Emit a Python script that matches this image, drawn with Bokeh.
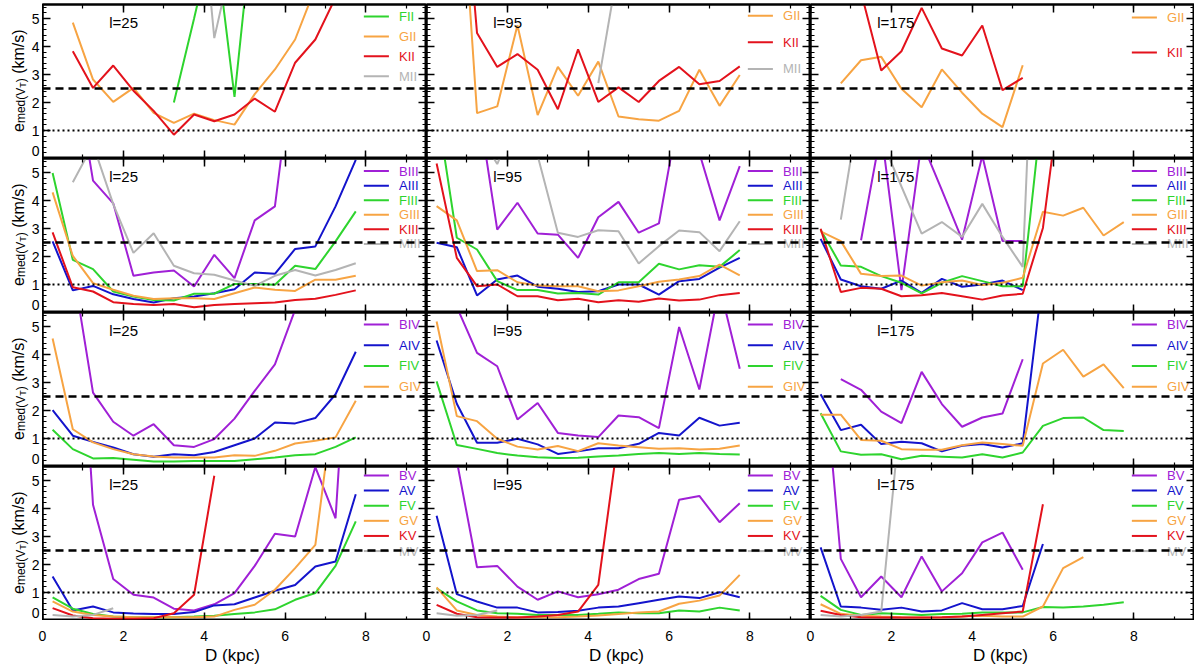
import numpy as np
from bokeh.core.properties import value
from bokeh.embed import file_html
from bokeh.layouts import column, gridplot, row
from bokeh.models import ColumnDataSource, LinearAxis, Range1d, SingleIntervalTicker, Span
from bokeh.plotting import figure
from bokeh.resources import INLINE

# distance bins (kpc)
D = [0.25, 0.75, 1.25, 1.75, 2.25, 2.75, 3.25, 3.75,
     4.25, 4.75, 5.25, 5.75, 6.25, 6.75, 7.25, 7.75]

N = None

# luminosity class II
FII_25 = [N, N, N, N, N, N, 2.0, 5.0, 8.1, 2.2, 9.1, N, N, N, N, N]
GII_25 = [N, 4.85, 2.82, 2.02, 2.52, 1.63, 1.27, 1.6, 1.37, 1.21, 2.3, 3.18, 4.25, 6.1, N, N]
KII_25 = [N, 3.83, 2.52, 3.32, 2.42, 1.7, 0.85, 1.57, 1.33, 1.57, 2.14, 1.67, 3.42, 4.25, 5.75, N]
MII_25 = [N, N, N, N, N, N, N, 12.0, 4.3, 7.5, N, N, N, N, N, N]

GII_95 = [N, 12.4, 1.62, 1.86, 4.76, 1.55, 3.27, 2.24, 3.46, 1.5, 1.4, 1.35, 1.7, 3.17, 1.88, 2.98]
KII_95 = [N, 13.0, 4.48, 3.27, 3.73, 3.17, 1.76, 3.9, 2.02, 2.54, 2.02, 2.77, 3.27, 2.65, 2.77, 3.29]
MII_95 = [N, N, N, N, N, N, N, N, 2.69, 6.9, N, N, N, N, N, N]

GII_175 = [N, 2.68, 3.51, 3.63, 2.49, 1.83, 3.18, 2.35, 1.6, 1.12, 3.33, N, N, N, N, N]
KII_175 = [N, N, 5.94, 3.14, 3.83, 5.38, 3.93, 3.68, 4.75, 2.44, 2.88, N, N, N, N, N]

# luminosity class III
BIII_25 = [N, 9.1, 4.71, 3.9, 1.31, 1.43, 1.5, 0.93, 2.06, 1.23, 3.29, 3.79, 9.5, N, N, N]
AIII_25 = [2.54, 0.79, 0.95, 0.65, 0.48, 0.36, 0.51, 0.57, 0.69, 0.83, 1.43, 1.38, 2.27, 2.36, 3.79, 5.45]
FIII_25 = [4.98, 1.88, 1.55, 0.75, 0.57, 0.45, 0.43, 0.67, 0.67, 1.02, 1.02, 0.99, 1.67, 1.55, 2.54, 3.61]
GIII_25 = [4.29, 2.02, 1.05, 0.81, 0.6, 0.48, 0.51, 0.51, 0.48, 0.69, 0.89, 0.81, 0.77, 1.17, 1.17, 1.31]
KIII_25 = [2.86, 0.9, 0.75, 0.37, 0.3, 0.27, 0.3, 0.19, 0.27, 0.3, 0.33, 0.36, 0.45, 0.49, 0.63, 0.79]
MIII_25 = [N, 4.65, 6.0, 3.87, 2.13, 2.83, 1.67, 1.4, 1.35, 1.14, 0.95, 1.31, 1.52, 1.32, 1.52, 1.76]

BIII_95 = [N, N, 7.7, 2.96, 3.92, 2.82, 2.78, 1.95, 3.4, 3.95, 2.85, 3.18, 7.2, 5.7, 3.29, 5.23]
AIII_95 = [2.49, 2.33, 0.61, 1.18, 1.32, 0.92, 0.85, 0.73, 0.76, 1.0, 1.0, 0.64, 1.12, 1.2, 1.6, 1.95]
FIII_95 = [7.4, 2.67, 2.25, 1.12, 0.8, 0.8, 0.68, 0.7, 0.64, 1.08, 1.08, 1.74, 1.54, 1.69, 1.63, 2.23]
GIII_95 = [3.8, 3.29, 1.48, 1.51, 1.08, 0.96, 0.94, 0.94, 0.76, 0.79, 0.94, 1.1, 1.18, 1.3, 1.71, 1.33]
KIII_95 = [5.32, 1.95, 0.94, 1.0, 0.58, 0.58, 0.44, 0.49, 0.37, 0.44, 0.38, 0.5, 0.43, 0.46, 0.62, 0.7]
MIII_95 = [N, N, 6.5, 5.3, 7.0, 5.6, 2.85, 2.7, 2.94, 2.9, 1.75, 2.37, 2.93, 2.87, 2.19, 3.26]

BIII_175 = [N, N, 2.58, 6.5, 0.8, 6.1, 4.37, 2.6, 5.6, 2.55, 2.55, N, N, N, N, N]
AIII_175 = [2.63, 1.18, 0.94, 0.85, 1.14, 0.7, 1.2, 0.92, 1.0, 1.14, 0.8, N, N, N, N, N]
FIII_175 = [2.96, 1.68, 1.63, 1.3, 1.06, 0.68, 1.06, 1.3, 1.12, 0.94, 0.94, 7.6, N, N, N, N]
GIII_175 = [2.9, 2.55, 1.38, 1.3, 1.32, 0.96, 1.08, 1.14, 0.98, 1.06, 1.24, 3.6, 3.46, 3.74, 2.75, 3.23]
KIII_175 = [2.99, 0.73, 0.88, 0.85, 0.58, 0.62, 0.7, 0.58, 0.46, 0.61, 0.67, 3.02, 8.6, N, N, N]
MIII_175 = [N, 3.32, 7.7, 6.2, 4.5, 2.82, 3.23, 2.7, 3.88, 2.7, 1.63, 19.0, N, N, N, N]

# luminosity class IV
BIV_25 = [N, 7.1, 2.64, 1.6, 1.1, 1.51, 0.76, 0.7, 0.98, 1.71, 2.7, 3.65, 5.6, 7.5, N, N]
AIV_25 = [2.01, 1.1, 0.88, 0.68, 0.44, 0.35, 0.44, 0.4, 0.52, 0.76, 1.0, 1.57, 1.54, 1.73, 2.58, 4.1]
FIV_25 = [1.31, 0.62, 0.29, 0.3, 0.24, 0.18, 0.18, 0.2, 0.2, 0.2, 0.26, 0.32, 0.4, 0.44, 0.7, 1.04]
GIV_25 = [4.57, 1.33, 0.86, 0.62, 0.44, 0.36, 0.32, 0.32, 0.32, 0.4, 0.38, 0.56, 0.82, 0.92, 1.04, 2.35]

BIV_95 = [N, 5.7, 4.06, 3.58, 1.68, 2.27, 1.2, 1.11, 1.05, 1.82, 1.76, 1.37, 4.98, 2.75, 6.45, 3.49]
AIV_95 = [4.5, 2.24, 0.85, 0.85, 0.99, 0.79, 0.45, 0.54, 0.65, 0.65, 0.81, 1.2, 1.11, 1.74, 1.46, 1.56]
FIV_95 = [3.04, 0.77, 0.63, 0.48, 0.39, 0.33, 0.3, 0.31, 0.36, 0.39, 0.45, 0.48, 0.45, 0.48, 0.45, 0.43]
GIV_95 = [5.18, 1.8, 1.62, 0.99, 0.71, 0.61, 0.73, 0.55, 0.83, 0.75, 0.69, 0.63, 0.65, 0.61, 0.63, 0.75]

BIV_175 = [N, 3.12, 2.74, 1.96, 1.55, 3.38, 2.23, 1.42, 1.75, 1.89, 3.83, N, N, N, N, N]
AIV_175 = [2.58, 1.3, 1.49, 0.8, 0.88, 0.83, 0.54, 0.74, 0.8, 0.68, 0.83, 6.8, N, N, N, N]
FIV_175 = [1.9, 0.54, 0.42, 0.44, 0.26, 0.38, 0.35, 0.32, 0.44, 0.32, 0.5, 1.45, 1.73, 1.75, 1.3, 1.27]
GIV_175 = [1.85, 1.85, 0.95, 0.92, 0.62, 0.6, 0.6, 0.76, 0.86, 0.8, 0.74, 3.68, 4.17, 3.21, 3.65, 2.8]

# luminosity class V
BV_25 = [N, 15.5, 4.13, 1.48, 0.92, 0.82, 0.42, 0.36, 0.58, 0.98, 1.95, 3.1, 3.0, 5.48, 3.65, 15.0]
AV_25 = [1.57, 0.36, 0.5, 0.29, 0.25, 0.23, 0.23, 0.3, 0.54, 0.58, 0.82, 1.06, 1.27, 1.93, 2.11, 4.51]
FV_25 = [0.83, 0.42, 0.23, 0.14, 0.12, 0.12, 0.12, 0.14, 0.17, 0.23, 0.29, 0.4, 0.74, 0.98, 1.95, 3.54]
GV_25 = [0.68, 0.32, 0.2, 0.14, 0.12, 0.12, 0.12, 0.12, 0.14, 0.38, 0.56, 1.1, 1.87, 2.7, 8.3, N]
KV_25 = [0.44, 0.18, 0.08, 0.06, 0.06, 0.08, 0.26, 0.92, 5.17, N, N, N, N, N, N, N]
MV_25 = [0.2, 0.14, 0.2, 0.44, N, N, N, N, N, N, N, N, N, N, N, N]

BV_95 = [N, 5.7, 1.9, 1.95, 1.21, 0.74, 1.04, 0.83, 0.94, 1.1, 1.48, 1.67, 4.31, 4.45, 3.51, 4.19]
AV_95 = [3.74, 0.94, 0.68, 0.46, 0.46, 0.29, 0.3, 0.35, 0.46, 0.5, 0.62, 0.74, 0.86, 0.8, 1.01, 0.83]
FV_95 = [1.15, 0.68, 0.36, 0.26, 0.24, 0.2, 0.2, 0.2, 0.24, 0.29, 0.26, 0.26, 0.36, 0.32, 0.46, 0.36]
GV_95 = [1.18, 0.36, 0.2, 0.14, 0.12, 0.12, 0.12, 0.14, 0.18, 0.23, 0.29, 0.32, 0.6, 0.71, 0.89, 1.63]
KV_95 = [0.56, 0.24, 0.12, 0.11, 0.11, 0.14, 0.2, 0.32, 1.27, 6.6, N, N, N, N, N, N]
MV_95 = [0.26, 0.17, 0.2, 0.36, N, N, N, N, N, N, N, N, N, N, N, N]

BV_175 = [10.4, 2.2, 0.83, 1.57, 0.83, 2.29, 1.04, 1.69, 2.79, 3.14, 1.81, N, N, N, N, N]
AV_175 = [2.61, 0.5, 0.46, 0.38, 0.46, 0.32, 0.36, 0.62, 0.4, 0.4, 0.52, 2.73, N, N, N, N]
FV_175 = [0.88, 0.38, 0.2, 0.26, 0.23, 0.2, 0.23, 0.24, 0.29, 0.29, 0.29, 0.48, 0.46, 0.5, 0.56, 0.65]
GV_175 = [0.58, 0.24, 0.17, 0.14, 0.12, 0.11, 0.11, 0.14, 0.17, 0.14, 0.14, 0.5, 1.87, 2.26, N, N]
KV_175 = [0.35, 0.2, 0.12, 0.11, 0.11, 0.11, 0.12, 0.14, 0.2, 0.26, 0.32, 4.15, N, N, N, N]
MV_175 = [0.2, 0.14, 0.2, 0.32, 7.7, N, N, N, N, N, N, N, N, N, N, N]

LONGITUDES = [25, 95, 175]
X_TICKS = [0, 2, 4, 6, 8]
Y_TICKS = [0, 1, 2, 3, 4, 5]
DASHED_LEVEL = 2.5
DOTTED_LEVEL = 1.0

COLORS = {"B": "#a020d6", "A": "#1414cc", "F": "#2ed42e",
          "G": "#f7a443", "K": "#e3121c", "M": "#b4b4b4"}

PANELS = [
    [[("FII", FII_25), ("GII", GII_25), ("KII", KII_25), ("MII", MII_25)],
     [("GII", GII_95), ("KII", KII_95), ("MII", MII_95)],
     [("GII", GII_175), ("KII", KII_175)]],
    [[("BIII", BIII_25), ("AIII", AIII_25), ("FIII", FIII_25), ("GIII", GIII_25), ("KIII", KIII_25), ("MIII", MIII_25)],
     [("BIII", BIII_95), ("AIII", AIII_95), ("FIII", FIII_95), ("GIII", GIII_95), ("KIII", KIII_95), ("MIII", MIII_95)],
     [("BIII", BIII_175), ("AIII", AIII_175), ("FIII", FIII_175), ("GIII", GIII_175), ("KIII", KIII_175), ("MIII", MIII_175)]],
    [[("BIV", BIV_25), ("AIV", AIV_25), ("FIV", FIV_25), ("GIV", GIV_25)],
     [("BIV", BIV_95), ("AIV", AIV_95), ("FIV", FIV_95), ("GIV", GIV_95)],
     [("BIV", BIV_175), ("AIV", AIV_175), ("FIV", FIV_175), ("GIV", GIV_175)]],
    [[("BV", BV_25), ("AV", AV_25), ("FV", FV_25), ("GV", GV_25), ("KV", KV_25), ("MV", MV_25)],
     [("BV", BV_95), ("AV", AV_95), ("FV", FV_95), ("GV", GV_95), ("KV", KV_95), ("MV", MV_95)],
     [("BV", BV_175), ("AV", AV_175), ("FV", FV_175), ("GV", GV_175), ("KV", KV_175), ("MV", MV_175)]],
]

# legend placement: (first entry y, step) in data units
LEGEND_POS = [
    [(5.07, 0.71), (5.1, 0.95), (5.04, 1.25)],
    [(5.05, 0.52)] * 3,
    [(5.07, 0.74)] * 3,
    [(5.18, 0.54)] * 3,
]

FONT = "Liberation Sans"
FRAME_W, FRAME_H = 384, 154
LEFT_W, TOP_B, BOTTOM_H = 42, 4, 44
X_MAX, Y_MAX = 9.5, 5.5
PX_X = FRAME_W / X_MAX
PX_Y = FRAME_H / Y_MAX

# Arial/Liberation advance widths (per 1000 em) for the y label pieces
ADV = {"e": 556, "m": 833, "d": 556, "(": 333, ")": 333, "V": 667, "T": 611,
       " ": 278, "k": 500, "/": 278, "s": 500}


def add_axis(p, side):
    if side in ("below", "above"):
        ticker = SingleIntervalTicker(interval=2, num_minor_ticks=2)
    else:
        ticker = SingleIntervalTicker(interval=1, num_minor_ticks=5)
    ax = LinearAxis(ticker=ticker, axis_line_width=2, axis_line_color="black",
                    major_tick_in=8, major_tick_out=0, minor_tick_in=4, minor_tick_out=0,
                    major_tick_line_width=1.5, minor_tick_line_width=1.2,
                    major_label_text_color=None)
    p.add_layout(ax, side)


def make_panel(r, c):
    p = figure(frame_width=FRAME_W, frame_height=FRAME_H,
               x_range=Range1d(0, X_MAX), y_range=Range1d(0, Y_MAX),
               x_axis_location=None, y_axis_location=None,
               output_backend="svg", toolbar_location=None,
               min_border_left=0, min_border_right=0,
               min_border_top=TOP_B if r == 0 else 0, min_border_bottom=0)
    p.grid.visible = False
    p.outline_line_color = "black"
    p.outline_line_width = 2
    for side in ("below", "left", "above", "right"):
        add_axis(p, side)

    p.add_layout(Span(location=DASHED_LEVEL, dimension="width", line_color="black",
                      line_width=2.5, line_dash="8 5"))
    p.add_layout(Span(location=DOTTED_LEVEL, dimension="width", line_color="black",
                      line_width=2, line_dash="2 3"))

    series = PANELS[r][c]
    for name, vals in series:
        ys = [np.nan if v is None else v for v in vals]
        p.line(D, ys, line_color=COLORS[name[0]], line_width=2)

    y0, step = LEGEND_POS[r][c]
    leg = ColumnDataSource(dict(
        y=[y0 - i * step for i in range(len(series))],
        name=[s[0] for s in series],
        color=[COLORS[s[0][0]] for s in series],
    ))
    p.segment(x0=7.95, x1=8.57, y0="y", y1="y", line_color="color", line_width=2, source=leg)
    p.text(x=8.82, y="y", text="name", text_color="color", text_font=value(FONT),
           text_font_size="13px", text_baseline="middle", text_align="left", source=leg)

    p.text(x=[1.65], y=[4.85], text=[f"l={LONGITUDES[c]}"], text_color="black",
           text_font=value(FONT), text_font_size="15px", text_baseline="alphabetic")
    return p


def strip(w, h, xr, yr, top=0):
    s = figure(frame_width=w, frame_height=h, x_range=xr, y_range=yr,
               x_axis_location=None, y_axis_location=None,
               output_backend="svg", toolbar_location=None,
               min_border_left=0, min_border_right=0, min_border_top=top, min_border_bottom=0)
    s.grid.visible = False
    s.outline_line_color = None
    return s


# left strip: y tick labels and y titles for the four rows (y in panel units, stacked)
ylab = strip(LEFT_W, 4 * FRAME_H, Range1d(0, LEFT_W), Range1d(0, 4 * Y_MAX), top=TOP_B)
tick_src = ColumnDataSource(dict(
    y=[(3 - r) * Y_MAX + t for r in range(4) for t in Y_TICKS],
    text=[str(t) for r in range(4) for t in Y_TICKS],
    dy=[-8 if t == 0 else 0 for r in range(4) for t in Y_TICKS],
))
ylab.text(x=39, y="y", text="text", y_offset="dy", text_align="right", text_baseline="middle",
          text_font=value(FONT), text_font_size="14px", text_color="black", source=tick_src)

# (text, font size, baseline x, extra gap before the piece in em of the piece)
pieces = [("e", 16, 17.5, 0.0), ("med(V", 12, 20.5, 0.0), ("T", 9, 22.5, 0.0),
          (")", 12, 20.5, 0.0), ("(km/s)", 16, 17.5, 0.278)]
widths = [(sum(ADV[ch] for ch in t) / 1000.0 + gap) * size / PX_Y for t, size, _, gap in pieces]
for r in range(4):
    y = (3 - r) * Y_MAX + 2.78 - sum(widths) / 2
    for (t, size, bx, gap), w in zip(pieces, widths):
        ylab.text(x=[bx], y=[y + gap * size / PX_Y], text=[t], angle=np.pi / 2,
                  text_align="left", text_baseline="alphabetic", text_font=value(FONT),
                  text_font_size=f"{size}px", text_color="black")
        y += w

# bottom strip: x tick labels and x titles (x in panel units, columns side by side)
xlab = strip(LEFT_W + 3 * FRAME_W, BOTTOM_H,
             Range1d(-LEFT_W / PX_X, 3 * X_MAX), Range1d(0, BOTTOM_H))
xt_src = ColumnDataSource(dict(
    x=[c * X_MAX + t for c in range(3) for t in X_TICKS],
    text=[str(t) for c in range(3) for t in X_TICKS],
))
xlab.text(x="x", y=BOTTOM_H - 15, text="text", text_align="center", text_baseline="middle",
          text_font=value(FONT), text_font_size="14px", text_color="black", source=xt_src)
xlab.text(x=[c * X_MAX + 4.7 for c in range(3)], y=BOTTOM_H - 35, text=["D (kpc)"] * 3,
          text_align="center", text_baseline="middle",
          text_font=value(FONT), text_font_size="17px", text_color="black")

panels = gridplot([[make_panel(r, c) for c in range(3)] for r in range(4)], toolbar_location=None)
p = column(row(ylab, panels), xlab)

open("out.html", "w").write(file_html(p, INLINE))
